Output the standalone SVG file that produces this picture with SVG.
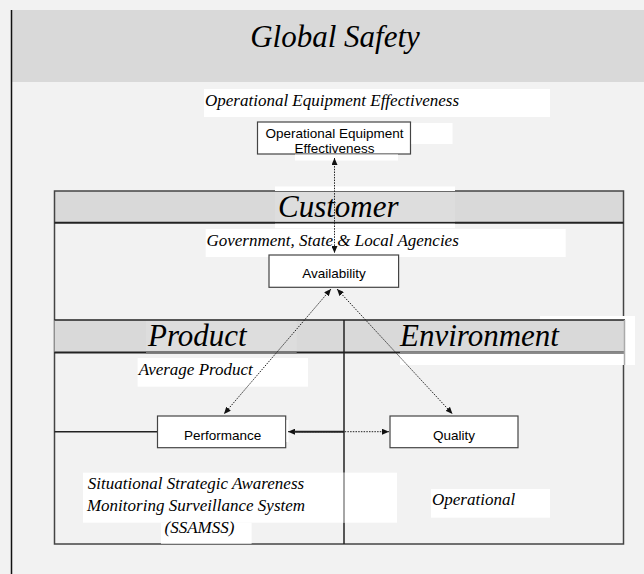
<svg xmlns="http://www.w3.org/2000/svg" width="644" height="574" viewBox="0 0 644 574">
  <style>
    .title { font-family: "Liberation Serif", "Times New Roman", serif; font-style: italic; font-size: 31px; fill: #000; }
    .label { font-family: "Liberation Serif", "Times New Roman", serif; font-style: italic; font-size: 17px; fill: #000; }
    .node { font-family: "Liberation Sans", Arial, sans-serif; font-size: 13.5px; fill: #000; text-anchor: middle; }
    .box { fill: #fff; stroke: #444; stroke-width: 1.2; }
    .wh { fill: #fff; }
    .band { fill: #d9d9d9; }
    .dot { fill: none; stroke: #222; stroke-width: 1; stroke-dasharray: 1.5 1.2; }
  </style>
  <defs>
    <marker id="ah" markerUnits="userSpaceOnUse" markerWidth="7" markerHeight="6" refX="7" refY="3" orient="auto-start-reverse">
      <path d="M0,0 L7,3 L0,6 z" fill="#111"/>
    </marker>
  </defs>

  <rect x="0" y="0" width="644" height="574" fill="#f2f2f2"/>

  <g id="global-safety">
    <rect x="12" y="10" width="632" height="72" class="band"/>
    <line x1="11.5" y1="10" x2="11.5" y2="574" stroke="#111" stroke-width="1.5"/>
    <text x="335" y="47" class="title" text-anchor="middle">Global Safety</text>
  </g>

  <g id="oee-label">
    <rect x="204" y="89" width="346" height="28" class="wh"/>
    <text x="205" y="106" class="label">Operational Equipment Effectiveness</text>
  </g>

  <g id="oee-box">
    <rect x="257.5" y="122" width="153" height="32" class="box"/>
    <rect x="411.5" y="123" width="41" height="21" class="wh"/>
    <rect x="295" y="154.5" width="103" height="6" class="wh"/>
    <text x="334.5" y="138" class="node">Operational Equipment</text>
    <text x="334.5" y="153" class="node">Effectiveness</text>
  </g>

  <g id="customer">
    <rect x="54.5" y="191" width="569" height="32" class="band"/>
    <rect x="54.5" y="191" width="569" height="353" fill="none" stroke="#444" stroke-width="1.5"/>
    <line x1="54.5" y1="222.7" x2="623.5" y2="222.7" stroke="#222" stroke-width="2"/>
    <rect x="275" y="186.5" width="180" height="4.5" class="wh"/>
    <rect x="275" y="192" width="180" height="29.5" fill="#dddddd"/>
    <rect x="275" y="223.7" width="180" height="4.5" class="wh"/>
    <text x="278" y="216.7" class="title">Customer</text>
  </g>

  <g id="gov-label">
    <rect x="205.7" y="229" width="360" height="28" class="wh"/>
    <text x="206.5" y="246" class="label">Government, State &amp; Local Agencies</text>
  </g>

  <g id="availability">
    <rect x="269" y="255" width="129.6" height="32.3" class="box"/>
    <text x="334" y="278" class="node">Availability</text>
  </g>

  <g id="product">
    <rect x="54.5" y="320" width="290" height="32" class="band"/>
    <rect x="146" y="320" width="150.7" height="33" fill="#dddddd"/>
    <line x1="54.5" y1="320" x2="344" y2="320" stroke="#222" stroke-width="1.5"/>
    <line x1="54.5" y1="352.5" x2="344" y2="352.5" stroke="#222" stroke-width="2"/>
    <line x1="146" y1="352.5" x2="296.7" y2="352.5" stroke="#777" stroke-width="2"/>
    <text x="148" y="345.5" class="title">Product</text>
  </g>

  <g id="environment">
    <rect x="540" y="316" width="95" height="49" class="wh"/>
    <rect x="400" y="352" width="225" height="13" class="wh"/>
    <rect x="344" y="320" width="281" height="32" class="band"/>
    <line x1="344" y1="320" x2="625" y2="320" stroke="#222" stroke-width="1.5"/>
    <line x1="344" y1="352.5" x2="625" y2="352.5" stroke="#222" stroke-width="2"/>
    <line x1="400" y1="352.5" x2="625" y2="352.5" stroke="#888" stroke-width="2"/>
    <line x1="624.5" y1="320" x2="624.5" y2="365" stroke="#aaa" stroke-width="1.5"/>
    <text x="400" y="345.5" class="title">Environment</text>
  </g>

  <g id="average-product">
    <rect x="137.6" y="358" width="170.4" height="28.7" class="wh"/>
    <text x="138.7" y="375" class="label">Average Product</text>
  </g>

  <g id="ssamss">
    <rect x="83" y="472.7" width="314" height="50" class="wh"/>
    <rect x="161" y="522.7" width="90.6" height="21" class="wh"/>
    <text x="196" y="489" class="label" text-anchor="middle">Situational Strategic Awareness</text>
    <text x="196" y="511" class="label" text-anchor="middle">Monitoring Surveillance System</text>
    <text x="199.5" y="533" class="label" text-anchor="middle">(SSAMSS)</text>
  </g>

  <g id="divider">
    <line x1="344" y1="320" x2="344" y2="472.7" stroke="#222" stroke-width="1.5"/>
    <line x1="344" y1="472.7" x2="344" y2="522.7" stroke="#888" stroke-width="1.5"/>
    <line x1="344" y1="522.7" x2="344" y2="544" stroke="#222" stroke-width="1.5"/>
  </g>

  <g id="operational">
    <rect x="431" y="489" width="119" height="28.7" class="wh"/>
    <text x="432" y="505" class="label">Operational</text>
  </g>

  <g id="performance">
    <line x1="54.5" y1="431.7" x2="157.5" y2="431.7" stroke="#222" stroke-width="1.5"/>
    <rect x="157.5" y="416" width="128.2" height="31.7" class="box"/>
    <rect x="286.5" y="420" width="2" height="22" class="wh"/>
    <text x="222.6" y="440" class="node">Performance</text>
  </g>

  <g id="quality">
    <rect x="390" y="416" width="128" height="31.7" class="box"/>
    <text x="454" y="440" class="node">Quality</text>
  </g>

  <g id="connectors">
    <line x1="334.5" y1="158" x2="334.5" y2="253" class="dot" marker-start="url(#ah)" marker-end="url(#ah)"/>
    <line x1="331" y1="289" x2="224" y2="414" class="dot" marker-start="url(#ah)" marker-end="url(#ah)"/>
    <line x1="337" y1="289" x2="452.5" y2="414" class="dot" marker-start="url(#ah)" marker-end="url(#ah)"/>
    <line x1="288" y1="431.7" x2="389" y2="431.7" class="dot" marker-start="url(#ah)" marker-end="url(#ah)"/>
    <line x1="294" y1="431.7" x2="344" y2="431.7" stroke="#222" stroke-width="2"/>
  </g>
</svg>
